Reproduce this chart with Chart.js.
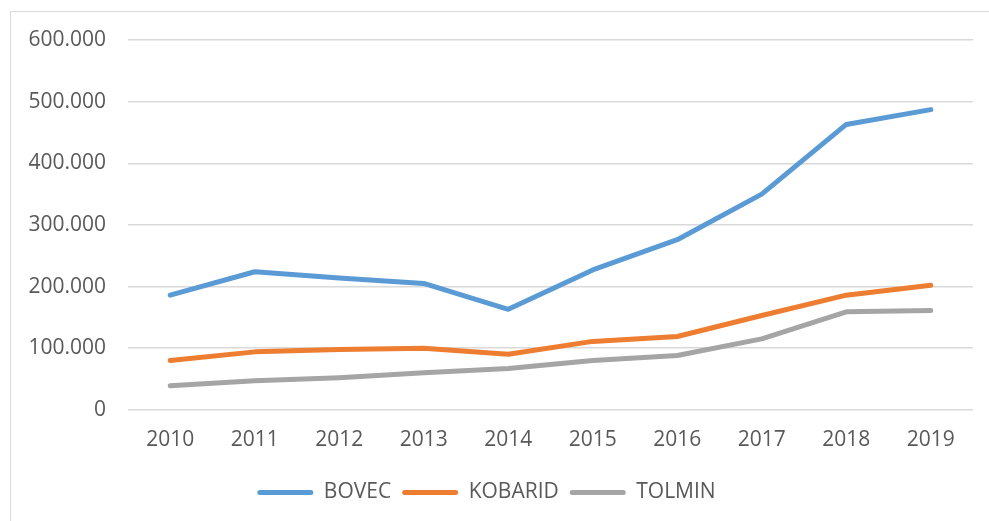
<!DOCTYPE html>
<html>
<head>
<meta charset="utf-8">
<script src="https://cdn.jsdelivr.net/npm/chart.js@4"></script>
<style>
  html, body { margin: 0; padding: 0; background: #fff; }
  #wrap { position: relative; width: 989px; height: 521px; overflow: hidden; }
  #frame { position: absolute; left: 10px; top: 11px; width: 1000px; height: 600px; border: 1px solid #d9d9d9; box-sizing: border-box; }
  canvas { position: absolute; left: 0; top: 0; }
</style>
</head>
<body>
<div id="wrap">
  <div id="frame"></div>
  <canvas id="c" width="989" height="521"></canvas>
</div>
<script>
// data
const years = ['2010', '2011', '2012', '2013', '2014', '2015', '2016', '2017', '2018', '2019'];
const bovec = [186000, 224000, 214000, 205000, 163000, 227000, 276000, 350000, 463000, 487000];
const kobarid = [80000, 94000, 98000, 100000, 90000, 111000, 119000, 153000, 186000, 202000];
const tolmin = [39000, 47000, 52000, 60000, 67000, 80000, 88000, 115000, 159000, 161000];
const yTicks = [0, 100000, 200000, 300000, 400000, 500000, 600000];

const TXT = '#595959';
const GRID = '#d9d9d9';
const FONT = { family: "'Open Sans', sans-serif", size: 21 };

// 600000 -> "600.000"
const fmtNum = v => String(v).replace(/\B(?=(\d{3})+(?!\d))/g, '.');

const line = (label, data, color) => ({
  label, data,
  borderColor: color, backgroundColor: color,
  borderWidth: 5, borderCapStyle: 'round', borderJoinStyle: 'round',
  pointRadius: 0, tension: 0, fill: false
});

new Chart(document.getElementById('c'), {
  type: 'line',
  data: {
    labels: years,
    datasets: [
      line('BOVEC', bovec, '#5b9bd5'),
      line('KOBARID', kobarid, '#ed7d31'),
      line('TOLMIN', tolmin, '#a5a5a5')
    ]
  },
  options: {
    responsive: false, animation: false,
    layout: { padding: { top: 40, right: 16, left: 0, bottom: 8 } },
    plugins: {
      tooltip: { enabled: false },
      legend: {
        position: 'bottom',
        labels: {
          color: TXT, font: FONT, boxWidth: 56, boxHeight: 5, padding: 11,
          useBorderRadius: true, borderRadius: 2.5,
          generateLabels: chart => chart.data.datasets.map((d, i) => ({
            text: d.label, fillStyle: d.borderColor, strokeStyle: d.borderColor,
            lineWidth: 0, fontColor: TXT, datasetIndex: i, borderRadius: 2.5
          }))
        }
      }
    },
    scales: {
      x: {
        offset: true,
        grid: { display: false, drawTicks: false },
        border: { display: false },
        ticks: { color: TXT, font: FONT, padding: 18, maxRotation: 0 }
      },
      y: {
        min: 0, max: 600000,
        afterFit: s => { s.width = 128; },
        afterBuildTicks: s => { s.ticks = yTicks.map(v => ({ value: v })); },
        grid: { color: GRID, lineWidth: 1.5, drawTicks: false },
        border: { display: false },
        ticks: { color: TXT, font: FONT, padding: 22, callback: v => fmtNum(v) }
      }
    }
  }
});
</script>
</body>
</html>
